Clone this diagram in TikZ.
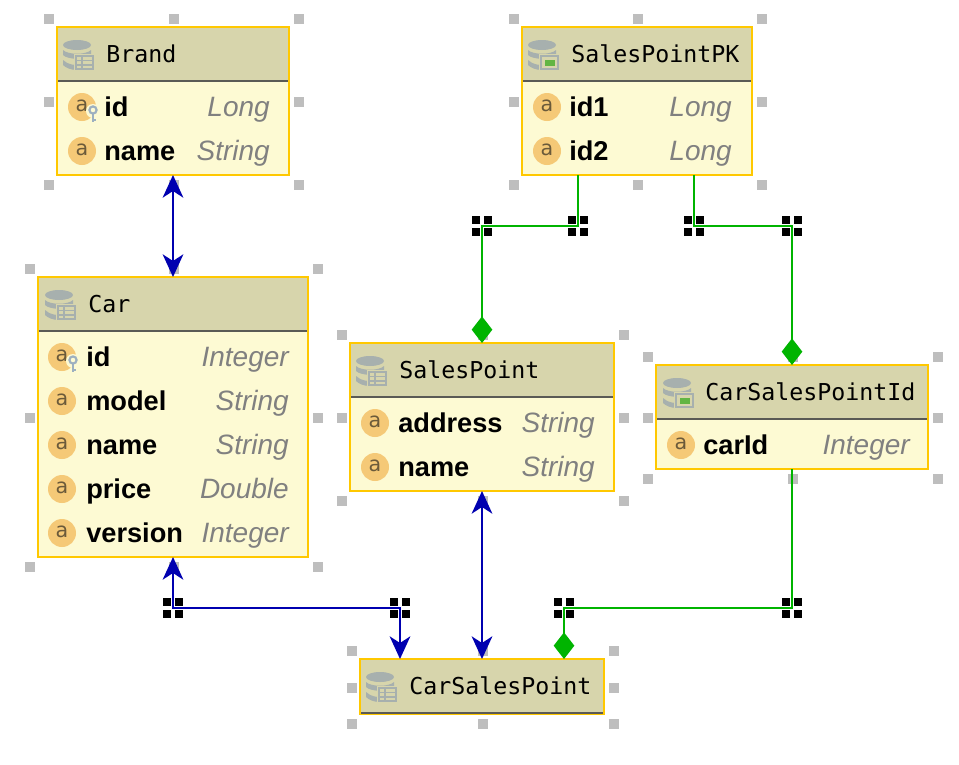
\documentclass[tikz,border=0pt]{standalone}
\usepackage{fontspec}
\setmainfont{Liberation Sans}
\newfontfamily\titlefont{DejaVu Sans Mono}
\newfontfamily\iconfont{DejaVu Sans}
\usetikzlibrary{arrows.meta}
\definecolor{hdr}{HTML}{D7D5AC}
\definecolor{bodyc}{HTML}{FDFAD3}
\definecolor{borderc}{HTML}{FFC800}
\definecolor{sepc}{HTML}{5A5A55}
\definecolor{iconc}{HTML}{F5C977}
\definecolor{icona}{HTML}{6B5A3A}
\definecolor{dbc}{HTML}{A7B0AE}
\definecolor{keyc}{HTML}{9DB0C0}
\definecolor{handlec}{HTML}{BEBEBE}
\definecolor{bluec}{HTML}{0000B0}
\definecolor{greenc}{HTML}{00B400}
\definecolor{typec}{HTML}{808080}
\definecolor{pkc}{HTML}{62B543}
\tikzset{
  x=0.75pt,y=-0.75pt,
  umlbody/.style={draw=borderc,fill=bodyc,line width=1.9pt,inner sep=0pt,outer sep=0pt},
  titletext/.style={inner sep=0pt,anchor=base west,font=\titlefont\fontsize{17.45}{20}\selectfont,text=black},
  fieldtext/.style={inner sep=0pt,anchor=base west,font=\bfseries\fontsize{20.4}{24}\selectfont,text=black},
  typetext/.style={inner sep=0pt,anchor=base east,font=\itshape\fontsize{21}{24}\selectfont,text=typec},
  icontext/.style={inner sep=0pt,font=\iconfont\fontsize{15.5}{16}\selectfont,text=icona},
  bluelink/.style={draw=bluec,line width=1.7pt,{Stealth[length=17pt,width=15.5pt,inset=5pt]}-{Stealth[length=17pt,width=15.5pt,inset=5pt]}},
  greenlink/.style={draw=greenc,line width=1.7pt,-{Diamond[length=20pt,width=15.5pt]}},
}
\newcommand{\ghandles}[4]{%
  \foreach \hx/\hy in {{#1-8}/{#2-8},{(#1+#3+2)/2}/{#2-8},{#3+10}/{#2-8},{#1-8}/{(#2+#4+2)/2},{#3+10}/{(#2+#4+2)/2},{#1-8}/{#4+10},{(#1+#3+2)/2}/{#4+10},{#3+10}/{#4+10}}{
    \fill[handlec] ({\hx-5},{\hy-5}) rectangle ({\hx+5},{\hy+5});
  }}
\newcommand{\umlbox}[6]{%
  \ghandles{#2}{#3}{#4}{#5}
  \node[umlbody,minimum width={(#4-#2)*0.75pt},minimum height={(#5-#3)*0.75pt}] (#1) at ({(#2+#4)/2},{(#3+#5)/2}) {};
  \fill[hdr] ({#2+1.3},{#3+1.3}) rectangle ({#4-1.3},{#6-1});
  \fill[sepc] ({#2+1.3},{#6-1}) rectangle ({#4-1.3},{#6+1});
}
\newcommand{\dbstack}{%
  \fill[dbc] (14,5) ellipse [x radius=14,y radius=5];
  \fill[dbc] (0,10) .. controls (5,15) and (23,15) .. (28,10) -- (28,15) .. controls (23,20) and (5,20) .. (0,15) -- cycle;
  \fill[dbc] (0,20) .. controls (5,25) and (12,25) .. (14,25) -- (14,30) .. controls (8,30) and (3,28) .. (0,25) -- cycle;
}
\newcommand{\dbtable}[2]{%
  \begin{scope}[shift={(#1,#2)}]
    \dbstack
    \fill[hdr] (11,14) rectangle (31,31);
    \draw[dbc,line width=1.3pt] (13,16) rectangle (30,29);
    \draw[dbc,line width=0.9pt] (13,20.5) -- (30,20.5) (13,25) -- (30,25) (19,16) -- (19,29);
  \end{scope}}
\newcommand{\dbpk}[2]{%
  \begin{scope}[shift={(#1,#2)}]
    \dbstack
    \fill[hdr] (11,14) rectangle (32,31);
    \draw[dbc,line width=1.3pt] (13,16) rectangle (30,29);
    \fill[pkc] (16.5,19.5) rectangle (26.5,25.5);
  \end{scope}}
\newcommand{\fieldrow}[7]{%
  \fill[iconc] (#2,#5) circle [radius=14];
  \node[icontext] (#1i) at (#2,{#5-1}) {a};
  \node[fieldtext] (#1n) at (#3,{#5+9}) {#6};
  \node[typetext] (#1t) at (#4,{#5+9}) {#7};
}
\newcommand{\keyicon}[2]{%
  \fill[bodyc] ({#1+11},{#2+4}) circle [radius=7];
  \draw[keyc,line width=1.6pt] ({#1+11},{#2+3}) circle [radius=3.6];
  \draw[keyc,line width=1.9pt] ({#1+11},{#2+7}) -- ({#1+11},{#2+15}) ({#1+11},{#2+13}) -- ({#1+14},{#2+13});
}
\newcommand{\bendmark}[3]{%
  \coordinate (#1) at (#2,#3);
  \foreach \sx/\sy in {-10/-10,2/-10,-10/2,2/2}{
    \fill[black] ({#2+\sx},{#3+\sy}) rectangle ({#2+\sx+8},{#3+\sy+8});
  }}
\begin{document}
\begin{tikzpicture}
\useasboundingbox (0,0) rectangle (959,764);
\umlbox{brand}{57}{27}{289}{175}{81}
\dbtable{63}{40}
\node[titletext] (brandtitle) at (106,62) {Brand};
\fieldrow{bid}{82}{104}{270}{107}{id}{Long}
\keyicon{82}{107}
\fieldrow{bname}{82}{104}{270}{151}{name}{String}

\umlbox{pk}{522}{27}{752}{175}{81}
\dbpk{528}{40}
\node[titletext] (pktitle) at (571,62) {SalesPointPK};
\fieldrow{pkone}{547}{569}{732}{107}{id1}{Long}
\fieldrow{pktwo}{547}{569}{732}{151}{id2}{Long}

\umlbox{car}{38}{277}{308}{557}{331}
\dbtable{45}{290}
\node[titletext] (cartitle) at (88,312) {Car};
\fieldrow{cid}{62}{86}{289}{357}{id}{Integer}
\keyicon{62}{357}
\fieldrow{cmodel}{62}{86}{289}{401}{model}{String}
\fieldrow{cname}{62}{86}{289}{445}{name}{String}
\fieldrow{cprice}{62}{86}{289}{489}{price}{Double}
\fieldrow{cversion}{62}{86}{289}{533}{version}{Integer}

\umlbox{sp}{350}{343}{614}{491}{397}
\dbtable{356}{356}
\node[titletext] (sptitle) at (399,378) {SalesPoint};
\fieldrow{saddr}{375}{398}{595}{423}{address}{String}
\fieldrow{sname}{375}{398}{595}{467}{name}{String}

\umlbox{cspi}{656}{365}{928}{469}{419}
\dbpk{663}{378}
\node[titletext] (cspititle) at (705,400) {CarSalesPointId};
\fieldrow{ccar}{681}{703}{910}{445}{carId}{Integer}

\umlbox{csp}{360}{659}{604}{714}{713}
\dbtable{366}{672}
\node[titletext] (csptitle) at (409,694) {CarSalesPoint};

\bendmark{ba}{482}{226}
\bendmark{bb}{578}{226}
\bendmark{bc}{694}{226}
\bendmark{bd}{792}{226}
\bendmark{be}{173}{608}
\bendmark{bf}{400}{608}
\bendmark{bg}{564}{608}
\bendmark{bh}{792}{608}

\draw[bluelink] (brand.south) -- (car.north);
\draw[bluelink] (car.south) -- (be) -- (bf) -- (bf |- csp.north);
\draw[bluelink] (sp.south) -- (csp.north -| sp.south);
\draw[greenlink] (bb |- pk.south) -- (bb) -- (ba) -- (sp.north);
\draw[greenlink] (bc |- pk.south) -- (bc) -- (bd) -- (cspi.north);
\draw[greenlink] (cspi.south) -- (bh) -- (bg) -- (bg |- csp.north);
\end{tikzpicture}
\end{document}
